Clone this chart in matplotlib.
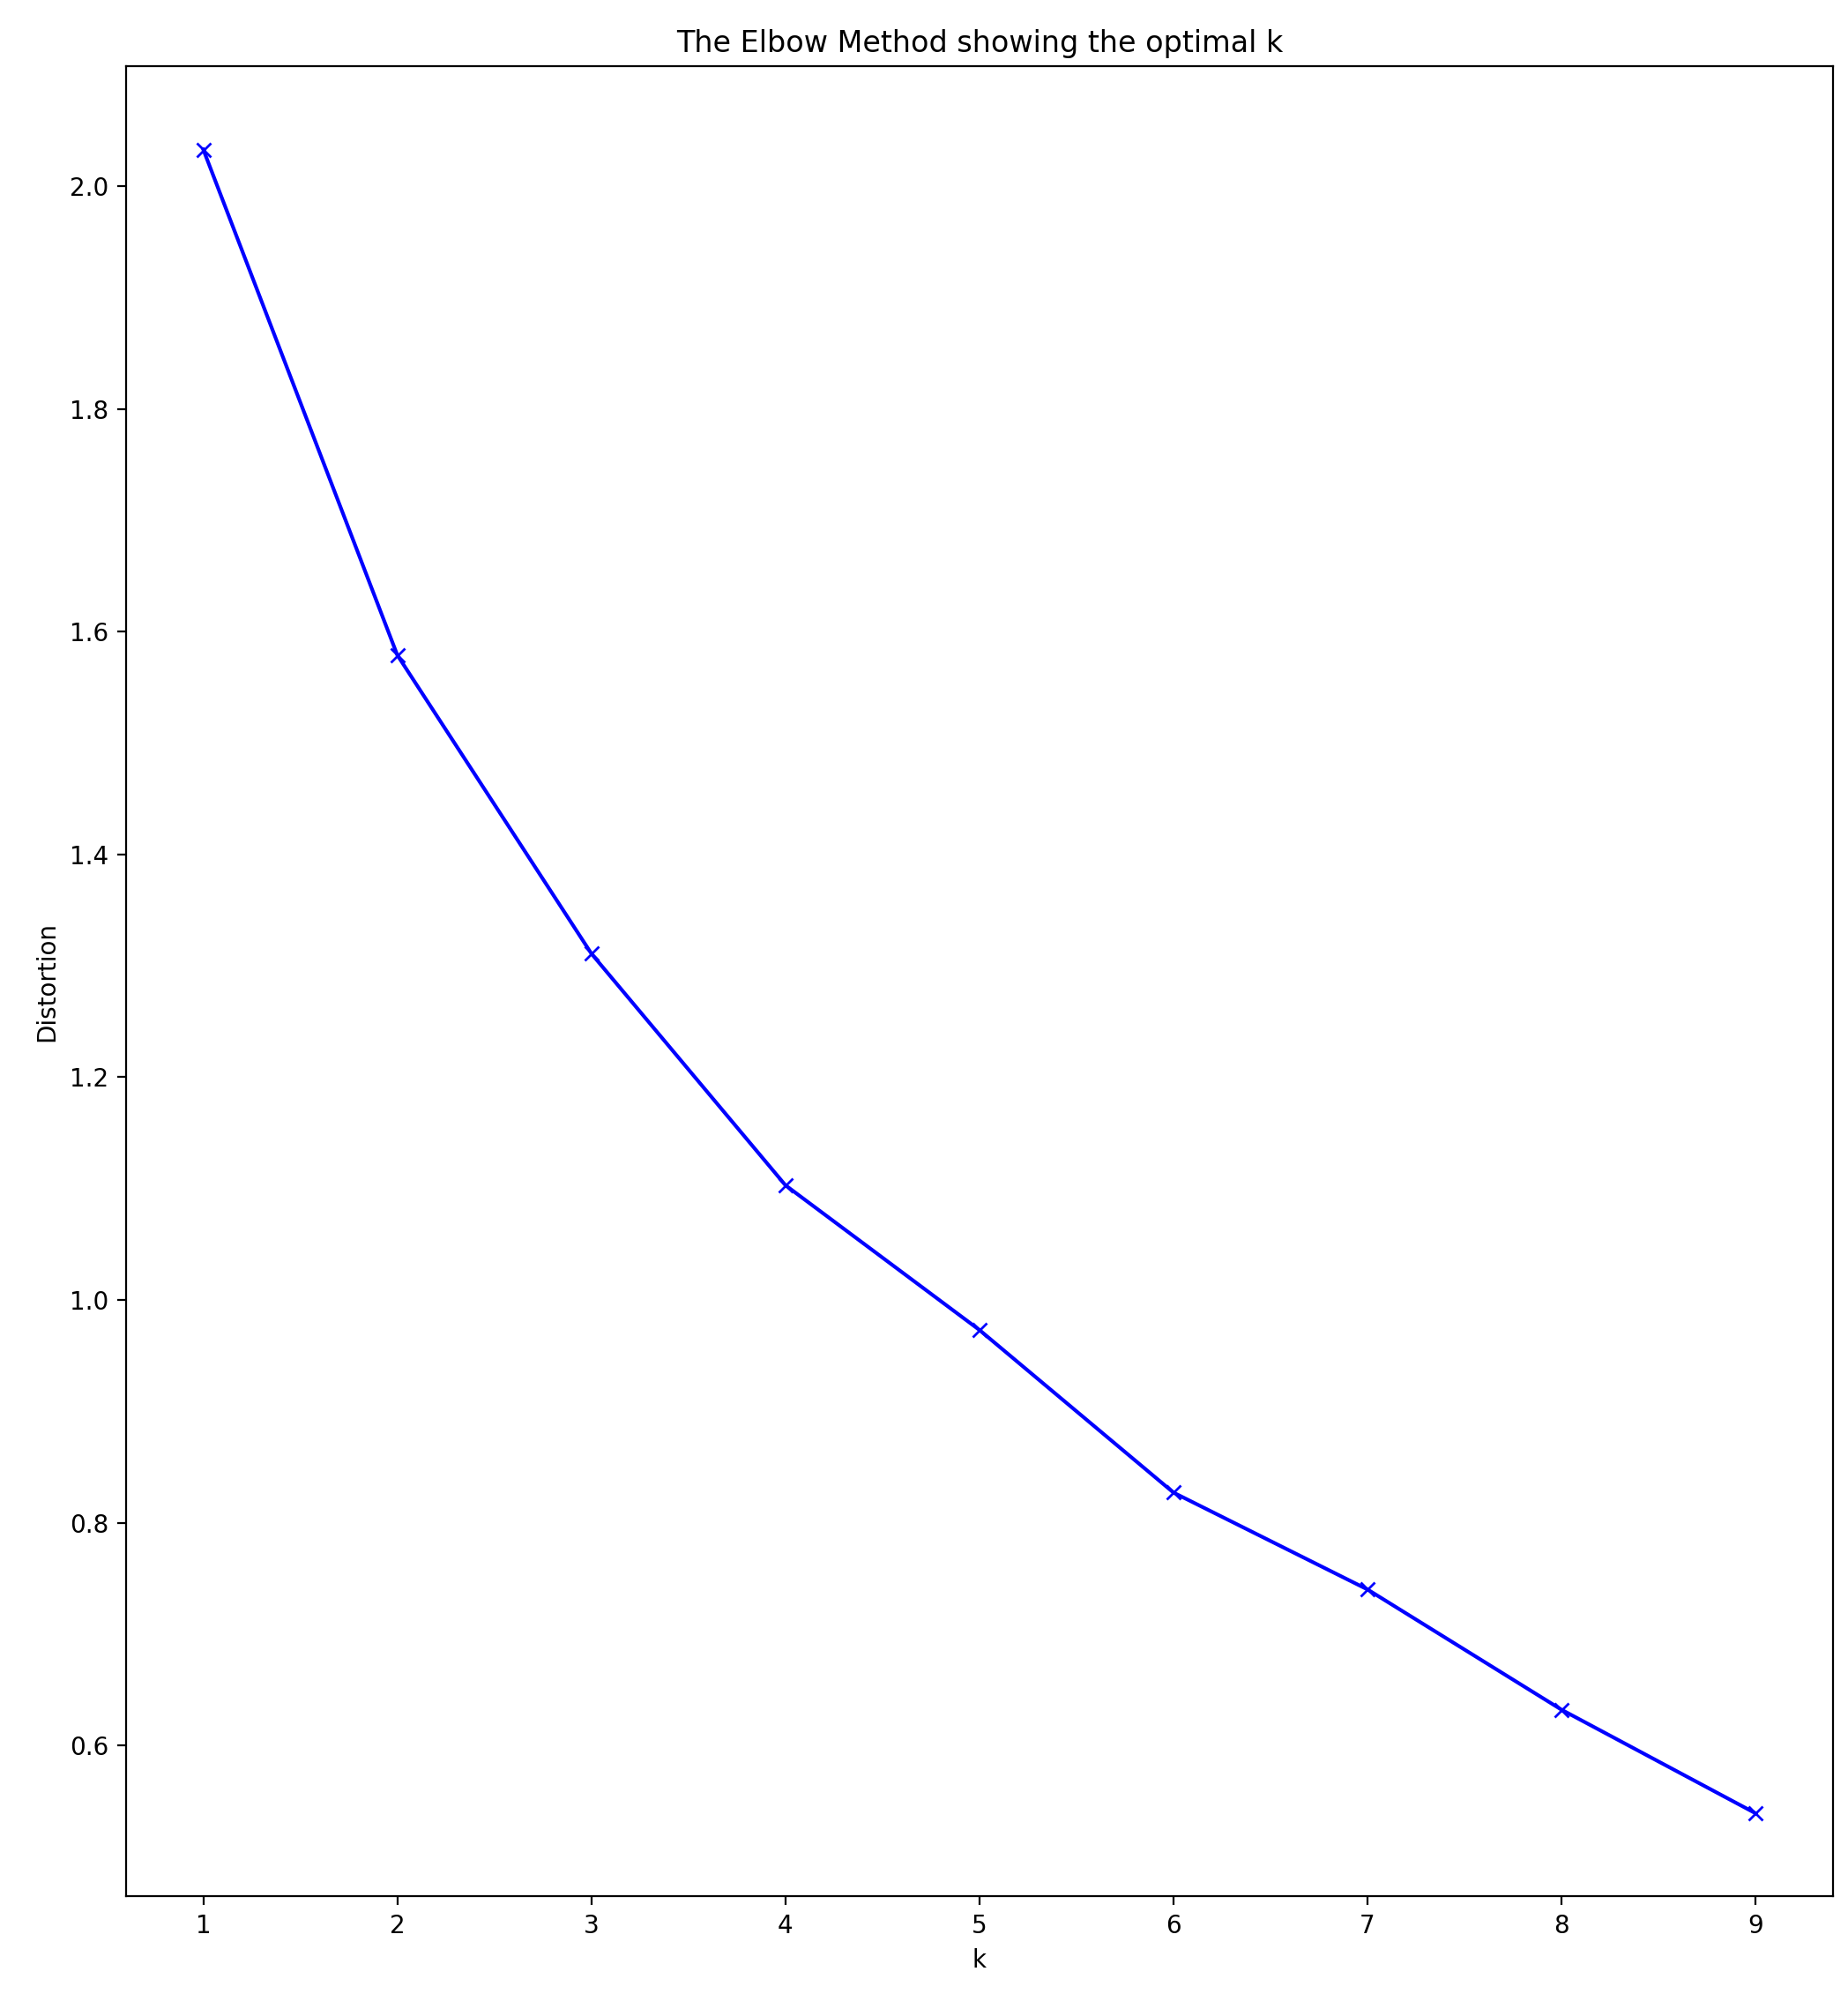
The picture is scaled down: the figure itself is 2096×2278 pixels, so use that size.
import matplotlib
matplotlib.use("Agg")
import matplotlib.pyplot as plt

k_values = [1, 2, 3, 4, 5, 6, 7, 8, 9]
distortions = [2.033, 1.579, 1.311, 1.103, 0.973, 0.827, 0.740, 0.632, 0.539]

fig = plt.figure(figsize=(10.48, 11.39), dpi=200)
ax = fig.add_subplot(111)
fig.subplots_adjust(left=0.068, right=0.992, top=0.967, bottom=0.056)
ax.plot(k_values, distortions, 'bx-')
ax.set_xlabel('k')
ax.set_ylabel('Distortion')
ax.set_title('The Elbow Method showing the optimal k')
fig.savefig('out.png', dpi=200)
